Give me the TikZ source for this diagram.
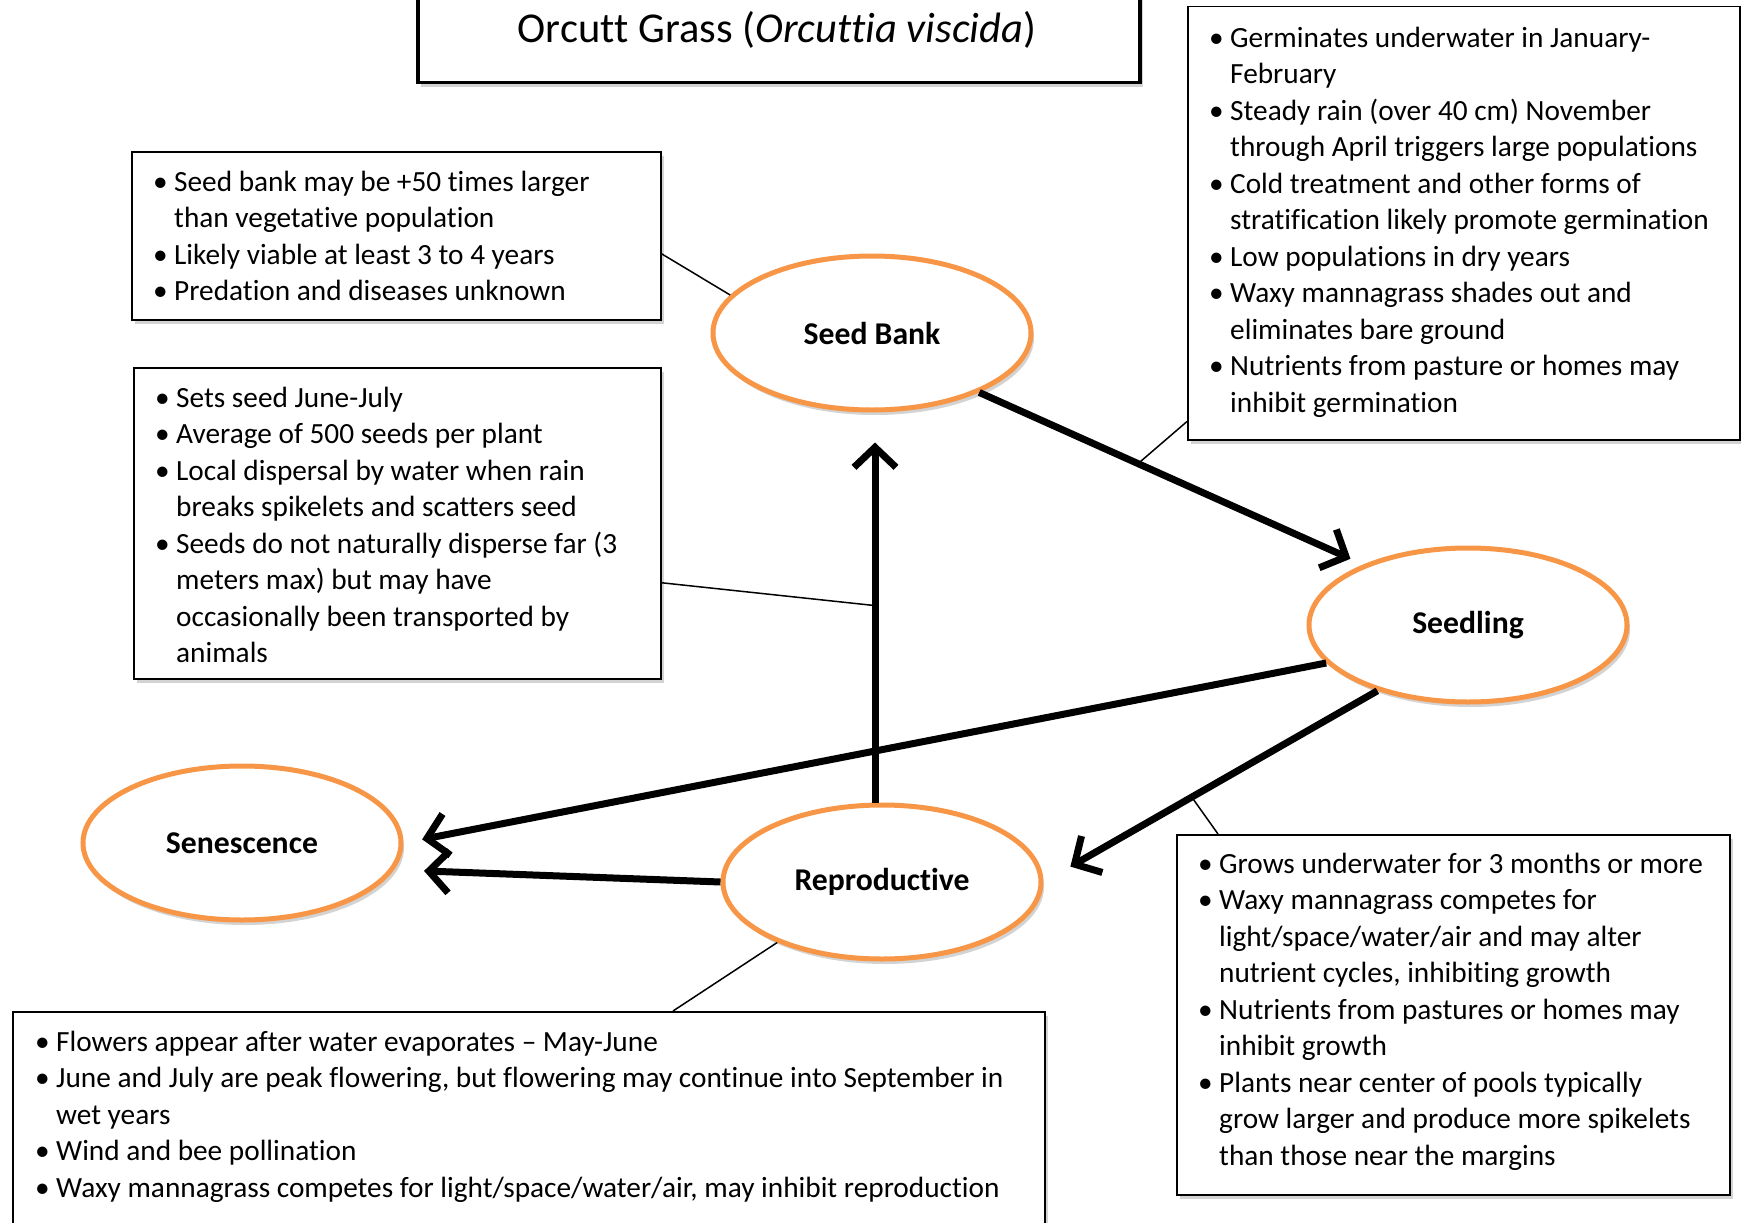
\documentclass[tikz,border=0pt]{standalone}
\usepackage{fontspec}
\setmainfont{Carlito}[RawFeature={-liga,-clig,-calt,-dlig}]
\usetikzlibrary{arrows.meta,shapes.geometric,shadows}
\definecolor{ellorange}{RGB}{247,150,70}
\newcommand{\bl}[1]{\rule{0pt}{22pt}\makebox[21pt][l]{\textbullet}#1}
\newcommand{\ct}[1]{\rule{0pt}{22pt}\hspace*{21pt}#1}
\begin{document}
\begin{tikzpicture}[x=1pt,y=-1pt,
  notebox/.style={draw=black, line width=1.5pt, fill=white, rectangle, inner sep=0pt, anchor=north west,
    drop shadow={shadow xshift=3pt, shadow yshift=-4pt, opacity=0.35}},
  notetext/.style={anchor=north west, inner sep=0pt, align=left, font=\fontsize{29.3}{36.5}\selectfont},
  stage/.style={ellipse, draw=ellorange, line width=5pt, fill=white, inner sep=0pt,
    minimum width=318pt, minimum height=154pt, font=\fontsize{31.7}{36}\selectfont\bfseries,
    drop shadow={shadow xshift=3pt, shadow yshift=-5pt, opacity=0.35}},
  flow/.style={line width=7pt, -{Straight Barb[length=20pt,width=42pt]}},
  callout/.style={line width=1.5pt}]
\useasboundingbox (0,0) rectangle (1741,1223);

% title
\node[draw=black, line width=3.5pt, fill=white, rectangle, inner sep=0pt, anchor=north west,
  minimum width=722pt, minimum height=91pt,
  drop shadow={shadow xshift=3pt, shadow yshift=-4pt, opacity=0.35}] (titlebox) at (416,-10) {};
\node[font=\fontsize{42.5}{48}\selectfont] (title) at (777,30) {Orcut\kern0pt t Grass (\textit{Orcut\kern0pt t\kern0pt ia viscida})};

% note boxes
\node[notebox, minimum width=529pt, minimum height=168pt] (b1) at (131,151) {};
\node[notetext] (t1) at (153,169) {\bl{Seed bank may be +50 times larger}\\
  \ct{than vegetative population}\\
  \bl{Likely viable at least 3 to 4 years}\\
  \bl{Predation and diseases unknown}};

\node[notebox, minimum width=527pt, minimum height=311pt] (b2) at (133,367) {};
\node[notetext] (t2) at (155,385) {\bl{Sets seed June-July}\\
  \bl{Average of 500 seeds per plant}\\
  \bl{Local dispersal by water when rain}\\
  \ct{breaks spikelets and scatters seed}\\
  \bl{Seeds do not naturally disperse far (3}\\
  \ct{meters max) but may have}\\
  \ct{occasionally been transported by}\\
  \ct{animals}};

\node[notebox, minimum width=552pt, minimum height=433pt] (b3) at (1187,6) {};
\node[notetext] (t3) at (1209,25) {\bl{Germinates underwater in January-}\\
  \ct{February}\\
  \bl{Steady rain (over 40 cm) November}\\
  \ct{through April triggers large populations}\\
  \bl{Cold treatment and other forms of}\\
  \ct{stratification likely promote germination}\\
  \bl{Low populations in dry years}\\
  \bl{Waxy mannagrass shades out and}\\
  \ct{eliminates bare ground}\\
  \bl{Nutrients from pasture or homes may}\\
  \ct{inhibit germination}};

\node[notebox, minimum width=553pt, minimum height=360pt] (b4) at (1176,834) {};
\node[notetext] (t4) at (1198,851) {\bl{Grows underwater for 3 months or more}\\
  \bl{Waxy mannagrass competes for}\\
  \ct{light/space/water/air and may alter}\\
  \ct{nutrient cycles, inhibiting growth}\\
  \bl{Nutrients from pastures or homes may}\\
  \ct{inhibit growth}\\
  \bl{Plants near center of pools typically}\\
  \ct{grow larger and produce more spikelets}\\
  \ct{than those near the margins}};

\node[notebox, minimum width=1032pt, minimum height=240pt] (b5) at (12,1011) {};
\node[notetext] (t5) at (35,1029) {\bl{Flowers appear after water evaporates -- May-June}\\
  \bl{June and July are peak flowering, but flowering may continue into September in}\\
  \ct{wet years}\\
  \bl{Wind and bee pollination}\\
  \bl{Waxy mannagrass competes for light/space/water/air, may inhibit reproduction}};

% stages
\node[stage] (sb) at (872,333) {Seed Bank};
\node[stage] (sl) at (1468,625) {Seedling};
\node[stage] (sn) at (242,843) {Senescence};
\node[stage] (rp) at (882,882) {Reproductive};

% helper points on the flows
\path (sb.-29) -- (sl.150) coordinate[pos=0.4136] (c1);
\path ([xshift=-7pt]rp.north) -- ([xshift=3pt,yshift=-30pt]sb.south) coordinate[pos=0.547] (c2);
\path (sl.216) -- (rp.east) coordinate[pos=0.556] (c4);

% callouts
\draw[callout] ([yshift=-18pt]b1.east) -- (sb.165);
\draw[callout] ([yshift=19pt]b3.south west) -- (c1);
\draw[callout] ([yshift=-59.5pt]b2.east) -- (c2);
\draw[callout] ([xshift=42pt]b4.north west) -- (c4);
\draw[callout] ([xshift=661pt]b5.north west) -- (rp.210);

% flows
\draw[flow, shorten >=14pt] (sb.-29) -- (sl.150);
\draw[flow] ([xshift=-7pt]rp.north) -- ([xshift=3pt,yshift=-30pt]sb.south);
\draw[flow, shorten >=19pt] (sl.195) -- (sn.east);
\draw[flow, shorten >=31pt] (sl.216) -- (rp.east);
\draw[flow, shorten >=30pt] (rp.west) -- (sn.-10);
\end{tikzpicture}
\end{document}
